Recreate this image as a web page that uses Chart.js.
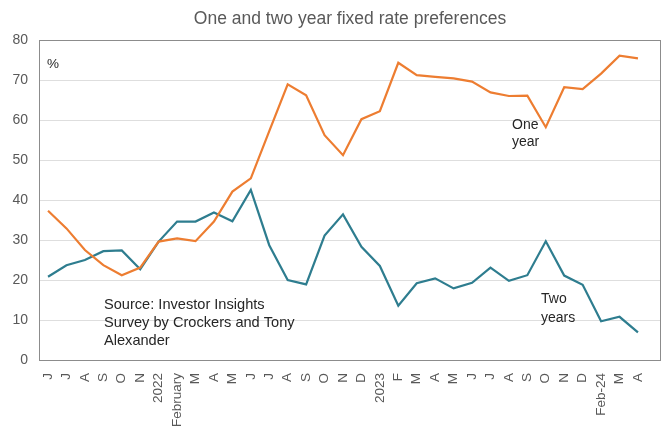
<!DOCTYPE html>
<html>
<head>
<meta charset="utf-8">
<script src="https://cdn.jsdelivr.net/npm/chart.js@4"></script>
<style>
  html, body { margin: 0; padding: 0; background: #fff; }
  #wrap { width: 661px; height: 426px; }
</style>
</head>
<body>
<div id="wrap"><canvas id="rateChart"></canvas></div>
<script>
const chartTitle = "One and two year fixed rate preferences";

const monthLabels = ["J", "J", "A", "S", "O", "N", "2022", "February", "M", "A", "M", "J", "J", "A", "S", "O", "N", "D",
    "2023", "F", "M", "A", "M", "J", "J", "A", "S", "O", "N", "D", "Feb-24", "M", "A"];

const oneYear = [37.3, 32.9, 27.5, 23.7, 21.2, 23.1, 29.6, 30.4, 29.7, 34.6, 42.1, 45.4, 57.2, 68.9, 66.2, 56.2, 51.2,
    60.2, 62.2, 74.3, 71.2, 70.8, 70.4, 69.6, 66.9, 66.0, 66.1, 58.2, 68.2, 67.7, 71.6, 76.1, 75.4];

const twoYears = [20.8, 23.7, 25.0, 27.2, 27.4, 22.7, 29.6, 34.6, 34.6, 36.9, 34.7, 42.5, 28.7, 20.0, 18.9, 31.1, 36.4,
    28.3, 23.5, 13.6, 19.2, 20.4, 17.9, 19.3, 23.1, 19.8, 21.2, 29.7, 21.1, 18.8, 9.7, 10.8, 6.9];

const yTicks = [0, 10, 20, 30, 40, 50, 60, 70, 80];

const FONT = "'Liberation Sans', Arial, sans-serif";
const GREY = "#595959";

// title, box round the plot and the text notes
const notes = {
    id: "notes",
    afterDraw(chart) {
        const { ctx, chartArea: a } = chart;
        ctx.save();
        ctx.strokeStyle = "#8c8c8c";
        ctx.lineWidth = 1;
        ctx.strokeRect(a.left + 0.5, a.top + 0.5, a.right - a.left - 1, a.bottom - a.top);

        ctx.textBaseline = "middle";
        ctx.textAlign = "center";
        ctx.fillStyle = GREY;
        ctx.font = "17.5px " + FONT;
        ctx.fillText(chartTitle, (a.left + a.right) / 2, 19);

        ctx.fillStyle = "#262626";
        ctx.textAlign = "left";
        ctx.font = "13.5px " + FONT;
        ctx.fillText("%", a.left + 8, 64);

        ctx.font = "14.6px " + FONT;
        ctx.fillText("Source: Investor Insights", 104, 305);
        ctx.fillText("Survey by Crockers and Tony", 104, 323);
        ctx.fillText("Alexander", 104, 341);

        ctx.font = "14px " + FONT;
        ctx.fillText("One", 512, 125);
        ctx.fillText("year", 512, 142);
        ctx.fillText("Two", 541, 299);
        ctx.fillText("years", 541, 318);
        ctx.restore();
    }
};

const toPoints = arr => arr.map((v, i) => ({ x: i, y: v }));

new Chart(document.getElementById("rateChart"), {
    type: "line",
    data: {
        datasets: [{
            label: "One year",
            data: toPoints(oneYear),
            borderColor: "#ED7D31",
            borderWidth: 2.2,
            pointRadius: 0,
            tension: 0
        }, {
            label: "Two years",
            data: toPoints(twoYears),
            borderColor: "#2E7D8F",
            borderWidth: 2.2,
            pointRadius: 0,
            tension: 0
        }]
    },
    options: {
        responsive: true,
        maintainAspectRatio: false,
        animation: false,
        layout: { padding: { top: 40 } },
        plugins: {
            legend: { display: false },
            tooltip: { enabled: false },
            title: { display: false }
        },
        scales: {
            x: {
                type: "linear",
                min: -0.49,
                max: 33.25,
                afterFit: s => { s.height = 66; },
                afterBuildTicks: s => { s.ticks = monthLabels.map((_, i) => ({ value: i })); },
                grid: { display: false },
                border: { display: false },
                ticks: {
                    autoSkip: false,
                    maxRotation: 90,
                    minRotation: 90,
                    padding: 5,
                    color: GREY,
                    font: { family: FONT, size: 13.5 },
                    callback: v => monthLabels[v] ?? ""
                }
            },
            y: {
                min: 0,
                max: 80,
                afterFit: s => { s.width = 39; },
                afterBuildTicks: s => { s.ticks = yTicks.map(v => ({ value: v })); },
                grid: { color: "#dedede", drawTicks: false },
                border: { display: false },
                ticks: {
                    padding: 11,
                    color: GREY,
                    font: { family: FONT, size: 14 }
                }
            }
        }
    },
    plugins: [notes]
});
</script>
</body>
</html>
